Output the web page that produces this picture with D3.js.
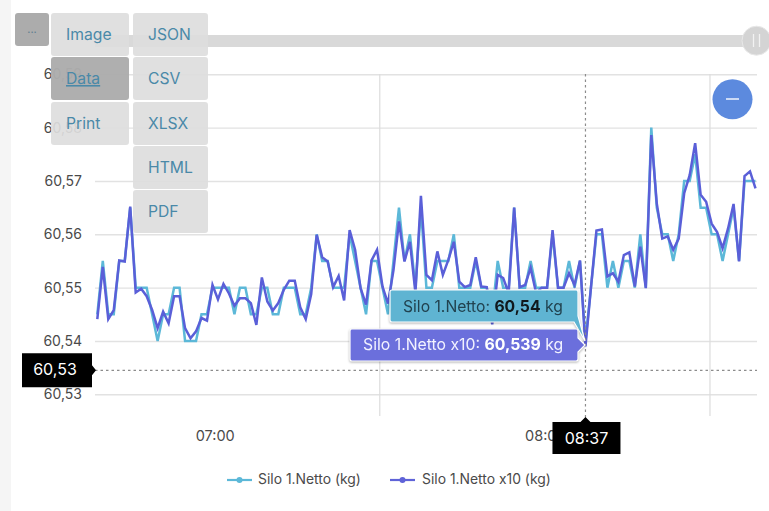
<!DOCTYPE html>
<html><head><meta charset="utf-8">
<style>html,body{margin:0;padding:0;background:#fff;overflow:hidden}svg{display:block;font-family:Inter,"Open Sans",sans-serif}.tip{filter:drop-shadow(0 1px 1px rgba(0,0,0,.3))}</style>
<script src="https://cdn.jsdelivr.net/npm/d3@7"></script>
</head><body><svg id="c" width="769" height="511"></svg>
<script>
const siloNetto = [60.545,60.555,60.545,60.545,60.555,60.555,60.565,60.55,60.55,60.55,60.545,60.54,60.545,60.545,60.55,60.55,60.54,60.54,60.54,60.545,60.545,60.55,60.55,60.55,60.55,60.545,60.55,60.55,60.545,60.545,60.55,60.55,60.545,60.545,60.55,60.55,60.55,60.545,60.545,60.55,60.56,60.555,60.555,60.55,60.55,60.55,60.56,60.555,60.55,60.545,60.555,60.555,60.55,60.545,60.555,60.565,60.555,60.56,60.55,60.565,60.55,60.55,60.555,60.555,60.555,60.56,60.55,60.55,60.55,60.555,60.55,60.55,60.545,60.555,60.55,60.55,60.565,60.55,60.55,60.555,60.55,60.55,60.55,60.56,60.55,60.55,60.555,60.55,60.555,60.54,60.55,60.56,60.56,60.55,60.555,60.55,60.555,60.555,60.55,60.56,60.55,60.58,60.565,60.56,60.56,60.555,60.56,60.57,60.57,60.575,60.565,60.565,60.56,60.56,60.555,60.56,60.565,60.555,60.57,60.57,60.57];
const siloNettoX10 = [60.5441,60.5539,60.5441,60.5458,60.5551,60.5549,60.5652,60.5491,60.5498,60.5484,60.5458,60.5424,60.5455,60.5433,60.5484,60.5484,60.5424,60.5405,60.5418,60.5443,60.5438,60.5505,60.5478,60.5507,60.5489,60.5466,60.548,60.548,60.5471,60.543,60.5519,60.5474,60.5457,60.5471,60.5496,60.5513,60.5513,60.5463,60.5441,60.5488,60.5599,60.5557,60.5549,60.5501,60.5522,60.5476,60.5608,60.5571,60.5499,60.5468,60.5551,60.5571,60.5502,60.547,60.5533,60.5624,60.5549,60.5586,60.549,60.5672,60.5524,60.5514,60.5568,60.5524,60.5552,60.5586,60.5511,60.5501,60.5505,60.5557,60.5502,60.5501,60.5431,60.5524,60.5518,60.549,60.565,60.5501,60.5505,60.5537,60.549,60.55,60.55,60.5608,60.55,60.55,60.5527,60.5505,60.5551,60.539,60.55,60.5607,60.5609,60.5521,60.5527,60.5511,60.5561,60.5566,60.5502,60.5577,60.5499,60.5786,60.5658,60.5592,60.5596,60.5571,60.5592,60.5677,60.5711,60.5771,60.5674,60.5661,60.562,60.5604,60.5574,60.5611,60.5657,60.5549,60.5709,60.5718,60.5686];
const yTicks = [60.53,60.54,60.55,60.56,60.57,60.58,60.59];
const xLabelMinutes = [21.4,81.6];
const xLabels = ["07:00","08:00"];
const xGridMinutes = [51.5,111.7];
const cursorMinute = 89, cursorValue = 60.5345, cursorTime = "08:37";
const seriesNames = ["Silo 1.Netto","Silo 1.Netto x10"];
const tipValues = ["60,54","60,539"];
const menuLeft = ["Image","Data","Print"];
const menuRight = ["JSON","CSV","XLSX","HTML","PDF"];

const LIGHT="#5cb8d8", DARK="#5a5fd8", LBL="#4a4a4a", GRID="#e2e2e2";
const svg=d3.select("#c");
const x=d3.scaleLinear().domain([0,120]).range([97.3,755.5]);
const y=d3.scaleLinear().domain([60.53,60.59]).range([394.3,74.3]);
const L=95,R=757,B=416;
const comma=d3.formatLocale({decimal:",",thousands:".",grouping:[3],currency:["",""]}).format(".2f");

svg.append("rect").attr("width",11).attr("height",511).attr("fill","#f5f5f5");

// slider
svg.append("rect").attr("x",95).attr("y",35).attr("width",662).attr("height",12).attr("fill","#d9d9d9");

// y axis + grid
const yAxis=svg.append("g").attr("transform",`translate(${L},0)`)
  .call(d3.axisLeft(y).tickValues(yTicks).tickFormat(comma).tickSize(-(R-L)).tickPadding(13));
yAxis.select(".domain").remove();
yAxis.selectAll("line").attr("stroke",GRID).attr("stroke-width",1.4);
yAxis.selectAll("text").attr("fill",LBL).attr("font-size",14).attr("font-family","Inter,sans-serif");

// x grid & labels
svg.append("g").selectAll("line").data(xGridMinutes).join("line")
  .attr("x1",d=>x(d)).attr("x2",d=>x(d)).attr("y1",74).attr("y2",B)
  .attr("stroke","#dcdcdc").attr("stroke-width",1.2);
const xAxis=svg.append("g").attr("transform",`translate(0,${B})`)
  .call(d3.axisBottom(x).tickValues(xLabelMinutes).tickFormat((d,i)=>xLabels[i]).tickSize(0).tickPadding(15));
xAxis.select(".domain").remove();
xAxis.selectAll("text").attr("fill",LBL).attr("font-size",14.5).attr("font-family","Inter,sans-serif");

// lines
const line=d3.line().x((d,i)=>x(i)).y(d=>y(d));
svg.append("path").datum(siloNetto).attr("d",line).attr("fill","none").attr("stroke",LIGHT).attr("stroke-width",2.5).attr("stroke-linejoin","miter");
svg.append("path").datum(siloNettoX10).attr("d",line).attr("fill","none").attr("stroke",DARK).attr("stroke-width",2.5).attr("stroke-linejoin","miter");

// crosshairs
const cx=x(cursorMinute), cy=y(cursorValue);
svg.append("line").attr("x1",cx).attr("x2",cx).attr("y1",74).attr("y2",B+4).attr("stroke","#8c8c8c").attr("stroke-width",1.2).attr("stroke-dasharray","2.5,3");
svg.append("line").attr("x1",L).attr("x2",R).attr("y1",cy).attr("y2",cy).attr("stroke","#8c8c8c").attr("stroke-width",1.2).attr("stroke-dasharray","2.5,3");

// cursor labels
svg.append("path").attr("d",`M22,${cy-17}H92V${cy-5}L96,${cy}L92,${cy+5}V${cy+17}H22Z`).attr("fill","#000");
svg.append("text").attr("x",55).attr("y",cy+5).attr("text-anchor","middle").attr("fill","#fff").attr("font-size",16).text(comma(cursorValue));
svg.append("path").attr("d",`M${cx-33},422H${cx-5}L${cx},417L${cx+5},422H${cx+35}V454H${cx-33}Z`).attr("fill","#000");
svg.append("text").attr("x",cx+1).attr("y",444).attr("text-anchor","middle").attr("fill","#fff").attr("font-size",16).text(cursorTime);

// tooltips
const tipY=[y(siloNetto[cursorMinute]),y(siloNettoX10[cursorMinute])];
const t1=svg.append("g").attr("class","tip");
t1.append("path").attr("d",`M392,290H576a2,2 0 0 1 2,2V316L585,${tipY[0]}L574,322H392a2,2 0 0 1 -2,-2V292a2,2 0 0 1 2,-2Z`)
  .attr("fill","#5fb4d2").attr("stroke","#fff").attr("stroke-width",1.2);
const tt1=t1.append("text").attr("x",403).attr("y",312).attr("font-size",15.7).attr("fill","#21424f");
tt1.append("tspan").text(seriesNames[0]+": ");
tt1.append("tspan").attr("font-weight",700).attr("fill","#10181c").text(tipValues[0]);
tt1.append("tspan").text(" kg");
const t2=svg.append("g").attr("class","tip");
t2.append("path").attr("d",`M352,329H576a2,2 0 0 1 2,2V338L585,345L578,352V359a2,2 0 0 1 -2,2H352a2,2 0 0 1 -2,-2V331a2,2 0 0 1 2,-2Z`)
  .attr("fill","#6b6fdc").attr("stroke","#fff").attr("stroke-width",1.2);
const tt2=t2.append("text").attr("x",363).attr("y",350).attr("font-size",15.8).attr("fill","#f2f2ff");
tt2.append("tspan").text(seriesNames[1]+": ");
tt2.append("tspan").attr("font-weight",700).attr("fill","#fff").text(tipValues[1]);
tt2.append("tspan").text(" kg");

// legend
const leg=[{x:227,tx:258,c:LIGHT,t:seriesNames[0]+" (kg)"},{x:390,tx:422,c:"#5f63d8",t:seriesNames[1]+" (kg)"}];
const lg=svg.append("g").selectAll("g").data(leg).join("g");
lg.append("line").attr("x1",d=>d.x).attr("x2",d=>d.x+25).attr("y1",480).attr("y2",480).attr("stroke",d=>d.c).attr("stroke-width",2.2);
lg.append("circle").attr("cx",d=>d.x+12.5).attr("cy",480).attr("r",3).attr("fill",d=>d.c);
lg.append("text").attr("x",d=>d.tx).attr("y",484).attr("font-size",13.9).attr("fill",LBL).text(d=>d.t);

// slider thumb
svg.append("circle").attr("cx",756.5).attr("cy",40.7).attr("r",14.5).attr("fill","#d4d4d4").attr("stroke","#e8e8e8");
[-3,3].forEach(o=>svg.append("line").attr("x1",756.5+o).attr("x2",756.5+o).attr("y1",34).attr("y2",47).attr("stroke","#f2f2f2").attr("stroke-width",1.3));

// zoom-out button
svg.append("circle").attr("cx",732.5).attr("cy",99.3).attr("r",20).attr("fill","#5c8ade");
svg.append("line").attr("x1",726).attr("x2",739).attr("y1",99).attr("y2",99).attr("stroke","#e8eefb").attr("stroke-width",1.6);

// export menu
const menu=svg.append("g");
menu.append("rect").attr("x",15).attr("y",13).attr("width",34).attr("height",33).attr("rx",3).attr("fill","#acacac");
menu.append("text").attr("x",32).attr("y",33).attr("text-anchor","middle").attr("font-size",11).attr("fill","#5e7f90").text("...");
const ys=[13,57,102,146,190];
function col(names,xx,w,tx){
  names.forEach((n,i)=>{
    const active=n==="Data";
    menu.append("rect").attr("x",xx).attr("y",ys[i]).attr("width",w).attr("height",43).attr("rx",3)
      .attr("fill",active?"#acacac":"#dddddd").attr("fill-opacity",active?0.97:0.92);
    menu.append("text").attr("x",tx).attr("y",ys[i]+27).attr("font-size",15.7).attr("fill","#4a89a8")
      .attr("text-decoration",active?"underline":null).text(n);
  });
}
col(menuLeft,51,78,66);
col(menuRight,133,75,148);
</script></body></html>
